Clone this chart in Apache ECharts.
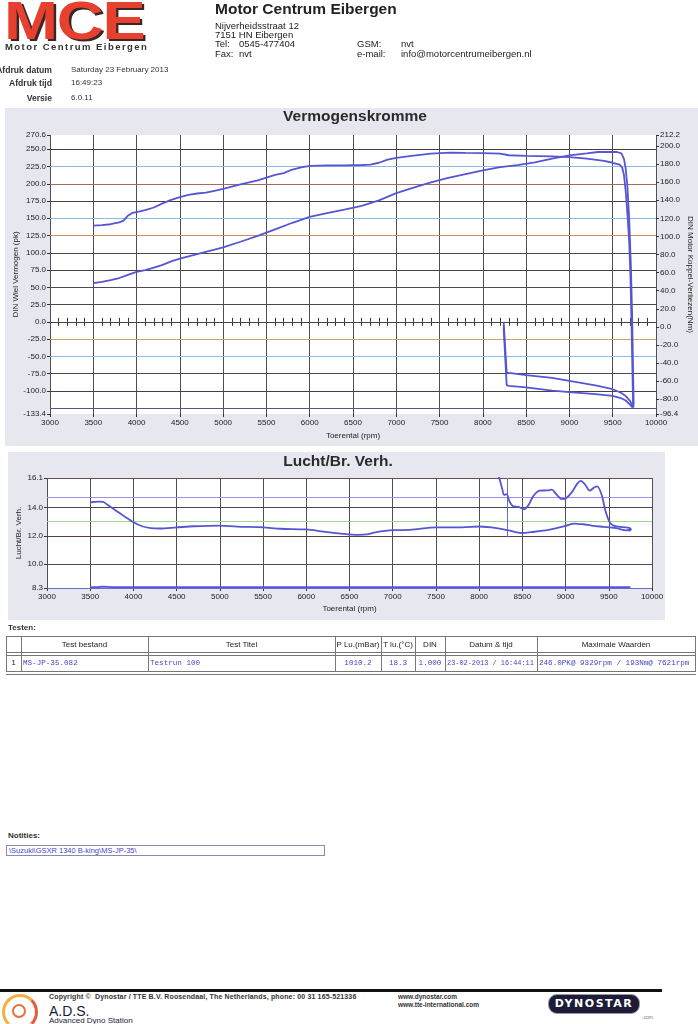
<!DOCTYPE html>
<html><head><meta charset="utf-8">
<script src="https://cdn.jsdelivr.net/npm/echarts@6.0.0/dist/echarts.min.js"></script>
<style>
html,body{margin:0;padding:0;background:#fff}
body{position:relative;width:698px;height:1024px;overflow:hidden;font-family:"Liberation Sans",Arial,sans-serif;color:#222}
.a{position:absolute;white-space:nowrap}
.b{font-weight:bold}
#chart{position:absolute;left:0;top:0;width:698px;height:630px}
.m{font-family:"Liberation Mono","DejaVu Sans Mono",monospace;color:#4646c8}
</style></head><body>
<div id="chart"></div>

<!-- header -->
<div class="a b" style="left:4px;top:-7px;font-size:54px;line-height:54px;color:#e8402e;text-shadow:2px 2px 0 #3a2626;transform:scaleX(1.2);transform-origin:left top;letter-spacing:-1px">MCE</div>
<div class="a b" style="left:5px;top:42px;font-size:9.5px;line-height:10px;color:#333;letter-spacing:1.45px">Motor Centrum Eibergen</div>
<div class="a b" style="left:215px;top:1px;font-size:15.5px;line-height:16px;color:#222">Motor Centrum Eibergen</div>
<div class="a" style="left:215px;top:21px;font-size:9.5px;line-height:10px">Nijverheidsstraat 12</div>
<div class="a" style="left:215px;top:30px;font-size:9.5px;line-height:10px">7151 HN Eibergen</div>
<div class="a" style="left:215px;top:39px;font-size:9.5px;line-height:10px">Tel:</div>
<div class="a" style="left:239px;top:39px;font-size:9.5px;line-height:10px">0545-477404</div>
<div class="a" style="left:215px;top:49px;font-size:9.5px;line-height:10px">Fax:</div>
<div class="a" style="left:239px;top:49px;font-size:9.5px;line-height:10px">nvt</div>
<div class="a" style="left:357px;top:39px;font-size:9.5px;line-height:10px">GSM:</div>
<div class="a" style="left:401px;top:39px;font-size:9.5px;line-height:10px">nvt</div>
<div class="a" style="left:357px;top:49px;font-size:9.5px;line-height:10px">e-mail:</div>
<div class="a" style="left:401px;top:49px;font-size:9.5px;line-height:10px">info@motorcentrumeibergen.nl</div>

<div class="a b" style="right:646px;top:66px;font-size:8.6px;line-height:8px;color:#333">Afdruk datum</div>
<div class="a b" style="right:646px;top:79px;font-size:8.6px;line-height:8px;color:#333">Afdruk tijd</div>
<div class="a b" style="right:646px;top:94px;font-size:8.6px;line-height:8px;color:#333">Versie</div>
<div class="a" style="left:71px;top:66px;font-size:8px;line-height:8px;color:#333">Saturday 23 February 2013</div>
<div class="a" style="left:71px;top:79px;font-size:8px;line-height:8px;color:#333">16:49:23</div>
<div class="a" style="left:71px;top:94px;font-size:8px;line-height:8px;color:#333">6.0.11</div>

<!-- tests table -->
<div class="a b" style="left:8px;top:624px;font-size:8px;line-height:8px;color:#333">Testen:</div>
<div id="tbl"></div>

<!-- notes -->
<div class="a b" style="left:8px;top:832px;font-size:8px;line-height:8px;color:#333">Notities:</div>
<div class="a" style="left:6px;top:845px;width:317px;height:9px;border:1px solid #8a8ab0"></div>
<div class="a" style="left:9px;top:846px;font-size:7.5px;line-height:9px;color:#4646c8">\Suzuki\GSXR 1340 B-king\MS-JP-35\</div>

<!-- footer -->
<div class="a" style="left:0;top:989px;width:662px;height:3px;background:#111"></div>
<div class="a" style="left:2px;top:994px;width:30px;height:30px;border-radius:50%;border:3px solid #f2b040;border-right-color:#e85a3a;border-bottom-color:#f6d060"></div>
<div class="a" style="left:12px;top:1004px;width:10px;height:10px;border-radius:50%;border:2px solid #e87040"></div>
<div class="a b" style="left:49px;top:993px;font-size:7px;line-height:8px;color:#333;letter-spacing:0.15px">Copyright ©&nbsp; Dynostar / TTE B.V. Roosendaal, The Netherlands, phone: 00 31 165-521336</div>
<div class="a b" style="left:398px;top:993px;font-size:6.5px;line-height:8px;color:#333">www.dynostar.com</div>
<div class="a b" style="left:398px;top:1001px;font-size:6.5px;line-height:8px;color:#333">www.tte-international.com</div>
<div class="a" style="left:49px;top:1004px;font-size:14px;line-height:14px;color:#1a1a40">A.D.S.</div>
<div class="a" style="left:49px;top:1017px;font-size:8px;line-height:8px;color:#1a1a40">Advanced Dyno Station</div>
<div class="a b" style="left:548px;top:994px;width:90px;height:18px;border-radius:9px;background:#1c1c38;border:1px solid #999;color:#fff;font-family:'DejaVu Sans',sans-serif;font-size:11px;line-height:18px;text-align:center;letter-spacing:1.5px">DYNOSTAR</div>
<div class="a" style="left:642px;top:1014px;font-size:5px;line-height:6px;color:#777">.com</div>

<script>
// ---------- data ----------
const powerRpm = [3500,3600,3700,3800,3900,4000,4100,4200,4300,4400,4500,4600,4700,4800,4900,5000,5200,5400,5600,5800,6000,6200,6400,6600,6800,7000,7200,7400,7600,7800,8000,8200,8400,8600,8800,9000,9200,9329,9450,9550,9600,9630,9650,9670,9690,9710,9725,9735,9742,9738,9725,9700,9650,9600,9500,9300,9000,8800,8500,8300,8275,8240];
const powerPk = [56,58,60.5,63.5,68,72.5,75,78.5,82.5,87.5,91.5,95,98,101.5,104.5,108,116,124.5,134,143.5,152,157.5,162.5,168,176,186.5,194.5,202,208.5,214,219.5,224,227,231,236.5,241,244,246,246,246,244,236,222,195,150,80,5,-70,-118,-124,-121,-114.5,-107.5,-103,-97.5,-92,-85.5,-81,-77,-74,-73.5,0];

const torqueRpm = [3500,3600,3700,3800,3850,3900,3950,4000,4100,4200,4300,4400,4500,4600,4700,4800,4900,5000,5200,5400,5600,5700,5800,5900,6000,6200,6400,6600,6700,6800,6900,7000,7200,7400,7621,7800,8000,8200,8300,8500,8800,9000,9200,9400,9500,9580,9610,9630,9650,9670,9690,9705,9718,9728,9735,9725,9700,9650,9600,9500,9300,9000,8800,8500,8300,8275,8240];
const torqueNm = [112,112.5,113.5,115.5,117.5,123,126,127,129,132,136.5,140.5,143.5,146,147.5,148.5,150.5,152.5,157.5,162,168,170,174,176.5,178,178.5,178.5,179,179.5,181.5,185,187,189.5,191.5,192.8,192.5,192.2,191.5,189.8,189,188.5,187.8,186,183.5,181.5,179.5,176,168,150,125,95,55,0,-50,-85,-89,-86,-81.5,-79,-76.3,-74.5,-72.2,-70.5,-67,-65.2,-64.4,0];

const afrRpm = [3500,3600,3650,3700,3800,3900,4000,4100,4200,4300,4500,4700,5000,5200,5500,5700,6000,6200,6400,6600,6700,6800,7000,7200,7500,7800,8000,8200,8400,8500,8600,8800,9000,9100,9200,9300,9400,9500,9600,9700,9750];
const afr = [14.38,14.42,14.4,14.2,13.78,13.36,12.96,12.68,12.55,12.52,12.6,12.68,12.73,12.65,12.6,12.5,12.45,12.3,12.16,12.07,12.1,12.25,12.4,12.42,12.6,12.6,12.66,12.55,12.3,12.2,12.26,12.42,12.7,12.87,12.82,12.73,12.66,12.6,12.52,12.38,12.45];

const afr2Rpm = [8225,8265,8290,8317,8352,8388,8455,8522,8573,8625,8697,8790,8841,8893,8955,9006,9073,9140,9176,9228,9279,9331,9366,9418,9459,9511,9562,9665,9743,9755,9740,9715];
const afr2 = [16.3,15.38,14.9,14.95,14.43,14.12,14.05,13.88,14.2,14.8,15.2,15.22,15.27,14.95,14.62,14.67,15.1,15.74,15.9,15.62,15.2,15.43,15.5,14.9,13.83,12.95,12.71,12.62,12.55,12.45,12.37,12.4];

const afrBaseRpm = [3500,3600,3650,3700,3750,9750];
const afrBase = [8.36,8.37,8.4,8.38,8.36,8.36];
const afrMarkerRpm = 8330;

// ---------- ticks / labels ----------
const rpmMin = 3000, rpmMax = 10000, rpmStep = 500;
const pkTicks = [-133.4,-100,-75,-50,-25,0,25,50,75,100,125,150,175,200,225,250,270.6];
const pkGridLines = [-125,-100,-75,-50,-25,0,25,50,75,100,125,150,175,200,225,250];
const pkGridColors = ['#55558a','#4a4040','#4a4a4a','#8cb8e6','#d0a060','#444','#4a4a4a','#4a4a5a','#444','#4a4a4a','#c8905a','#8cb8e6','#444','#a86a5a','#8cb8e6','#4a3a3a'];
const nmTicks = [-96.4,-80,-60,-40,-20,0,20,40,60,80,100,120,140,160,180,200,212.2];
const afrTicks = [8.3,10,12,14,16.1];
const afrGridLines = [8.3,10,12,14,16.1];
const afrGridColors = ['#6b6bc8','#5a4a6a','#5a4040','#4a4a4a','#6a5050'];
const afrRefLines = [14.7,13.0];
const afrRefColors = ['#a090ea','#98d890'];
const zeroTicks = [];
for (let r = rpmMin + 100; r < rpmMax; r += 100) if (r % rpmStep !== 0) zeroTicks.push(r);

// ---------- table ----------
const colX = [6,21,148,335,381,415,445,537,695];
const headers = ['', 'Test bestand','Test Titel','P Lu.(mBar)','T lu.(°C)','DIN','Datum & tijd','Maximale Waarden'];
const row = ['1','MS-JP-35.082','Testrun 100','1010.2','18.3','1.000','23-02-2013 / 16:44:11','246.0PK@ 9329rpm / 193Nm@ 7621rpm'];
const rowAlign = ['center','left','left','center','center','center','left','left'];
(function(){
  const t = document.getElementById('tbl');
  let h = '';
  const L = colX[0], R = colX[colX.length-1];
  [636,652,655,671,674].forEach(y=>{ h += `<div class="a" style="left:${L}px;top:${y}px;width:${R-L+1}px;height:1px;background:#777"></div>`; });
  colX.forEach(x=>{ h += `<div class="a" style="left:${x}px;top:636px;width:1px;height:36px;background:#777"></div>`; });
  for (let i=0;i<headers.length;i++){
    const x0 = colX[i], w = colX[i+1]-colX[i];
    h += `<div class="a" style="left:${x0}px;top:640px;width:${w}px;text-align:center;font-size:8px;line-height:9px;color:#222">${headers[i]}</div>`;
    const cls = i===0 ? '' : 'm';
    const fs = i===6 ? 6.9 : 7.6;
    const pad = rowAlign[i]==='left' ? 2 : 0;
    h += `<div class="a ${cls}" style="left:${x0+pad}px;top:658px;width:${w-pad}px;text-align:${rowAlign[i]};font-size:${fs}px;line-height:10px;${i===0?'color:#222;font-family:Liberation Sans':''}">${row[i]}</div>`;
  }
  t.innerHTML = h;
})();

// ---------- chart ----------
const FONT = "'Liberation Sans', Arial, sans-serif";
const lineColor = '#5656d2';
const zip = (a,b)=>a.map((x,i)=>[x,b[i]]);
const lbl = {fontSize:8, color:'#222', fontFamily:FONT};
const nameStyle = {fontSize:8, color:'#222', fontFamily:FONT};
const tickStyle = {color:'#333', width:1};
function gridMarks(vals, colors){
  return {symbol:['none','none'], silent:true, animation:false, z:1, label:{show:false},
    lineStyle:{type:'solid', width:1}, emphasis:{disabled:true},
    data: vals.map((v,i)=>({yAxis:v, lineStyle:{color:colors[i], width:1, type:'solid'}}))};
}

const chart = echarts.init(document.getElementById('chart'), null, {renderer:'canvas'});
chart.setOption({
  animation:false,
  textStyle:{fontFamily:FONT},
  graphic:[
    {type:'rect', z:-100, shape:{x:5,y:108,width:693,height:338}, style:{fill:'#e7e7ef'}},
    {type:'rect', z:-100, shape:{x:8,y:452,width:657,height:168}, style:{fill:'#e7e7ef'}},
    {type:'text', z:10, x:355, y:117, style:{text:'Vermogenskromme', font:"bold 15.5px 'Liberation Sans', Arial", fill:'#2a2a2a', align:'center', verticalAlign:'middle'}},
    {type:'text', z:10, x:338, y:462, style:{text:'Lucht/Br. Verh.', font:"bold 15.5px 'Liberation Sans', Arial", fill:'#2a2a2a', align:'center', verticalAlign:'middle'}}
  ],
  grid:[
    {left:50, top:135, width:606, height:279, show:true, backgroundColor:'#fff', borderWidth:0, outerBoundsMode:'none', containLabel:false},
    {left:47, top:478, width:605, height:110, show:true, backgroundColor:'#fff', borderWidth:0, outerBoundsMode:'none', containLabel:false}
  ],
  xAxis:[
    {gridIndex:0, type:'value', position:'bottom', min:rpmMin, max:rpmMax, interval:rpmStep,
     axisLine:{show:false, onZero:false}, axisTick:{show:true, length:3, lineStyle:tickStyle},
     axisLabel:{...lbl, margin:5, formatter:v=>String(v)},
     splitLine:{show:true, lineStyle:{color:'#505050', width:1}},
     name:'Toerental (rpm)', nameLocation:'middle', nameGap:18, nameTextStyle:nameStyle, nameMoveOverlap:false},
    {gridIndex:0, type:'value', position:'bottom', min:rpmMin, max:rpmMax, interval:rpmStep,
     axisLine:{show:true, onZero:true, onZeroAxisIndex:0, lineStyle:{color:'#444', width:1}},
     axisTick:{show:true, customValues:zeroTicks, length:4, inside:false, lineStyle:tickStyle},
     axisLabel:{show:false}, splitLine:{show:false}},
    {gridIndex:0, type:'value', position:'bottom', min:rpmMin, max:rpmMax, interval:rpmStep,
     axisLine:{show:false, onZero:true, onZeroAxisIndex:0},
     axisTick:{show:true, customValues:zeroTicks, length:4, inside:true, lineStyle:tickStyle},
     axisLabel:{show:false}, splitLine:{show:false}},
    {gridIndex:1, type:'value', position:'bottom', min:rpmMin, max:rpmMax, interval:rpmStep,
     axisLine:{show:false, onZero:false}, axisTick:{show:true, length:3, lineStyle:tickStyle},
     axisLabel:{...lbl, margin:5, formatter:v=>String(v)},
     splitLine:{show:true, lineStyle:{color:'#505050', width:1}},
     name:'Toerental (rpm)', nameLocation:'middle', nameGap:17, nameTextStyle:nameStyle, nameMoveOverlap:false}
  ],
  yAxis:[
    {gridIndex:0, type:'value', position:'left', min:-133.4, max:270.6,
     axisLine:{show:false, onZero:false}, splitLine:{show:false},
     axisTick:{show:true, customValues:pkTicks, length:3, lineStyle:tickStyle},
     axisLabel:{...lbl, customValues:pkTicks, margin:4, formatter:v=>Number(v).toFixed(1)},
     name:'DIN Wiel Vermogen (pk)', nameLocation:'middle', nameGap:30, nameTextStyle:nameStyle, nameMoveOverlap:false},
    {gridIndex:0, type:'value', position:'right', min:-96.4, max:212.2,
     axisLine:{show:false, onZero:false}, splitLine:{show:false},
     axisTick:{show:true, customValues:nmTicks, length:3, lineStyle:tickStyle},
     axisLabel:{...lbl, customValues:nmTicks, margin:4, formatter:v=>Number(v).toFixed(1)},
     name:'DIN Motor Koppel-Verliezen(Nm)', nameLocation:'middle', nameRotate:-90, nameGap:30, nameTextStyle:nameStyle, nameMoveOverlap:false},
    {gridIndex:1, type:'value', position:'left', min:8.3, max:16.1,
     axisLine:{show:false, onZero:false}, splitLine:{show:false},
     axisTick:{show:true, customValues:afrTicks, length:3, lineStyle:tickStyle},
     axisLabel:{...lbl, customValues:afrTicks, margin:4, formatter:v=>Number(v).toFixed(1)},
     name:'Lucht/Br. Verh.', nameLocation:'middle', nameGap:24, nameTextStyle:nameStyle, nameMoveOverlap:false}
  ],
  series:[
    {type:'line', xAxisIndex:0, yAxisIndex:0, data:[], silent:true, markLine:gridMarks(pkGridLines, pkGridColors)},
    {type:'line', name:'Vermogen', xAxisIndex:0, yAxisIndex:0, data:zip(powerRpm,powerPk), showSymbol:false, z:5, lineStyle:{color:lineColor, width:1.8}},
    {type:'line', name:'Koppel', xAxisIndex:0, yAxisIndex:1, data:zip(torqueRpm,torqueNm), showSymbol:false, z:5, lineStyle:{color:lineColor, width:1.8}},
    {type:'line', xAxisIndex:3, yAxisIndex:2, data:[], silent:true,
     markLine:(function(){
       const m = gridMarks(afrGridLines.concat(afrRefLines), afrGridColors.concat(afrRefColors));
       m.data.push([{coord:[afrMarkerRpm,16.1], lineStyle:{color:'#6a6ad8', width:1, type:'solid'}},{coord:[afrMarkerRpm,11.9]}]);
       return m;
     })()},
    {type:'line', name:'AFR', xAxisIndex:3, yAxisIndex:2, data:zip(afrRpm,afr), showSymbol:false, smooth:0.3, z:5, lineStyle:{color:lineColor, width:1.8}},
    {type:'line', name:'AFR2', xAxisIndex:3, yAxisIndex:2, data:zip(afr2Rpm,afr2), showSymbol:false, smooth:0.3, z:5, lineStyle:{color:lineColor, width:1.8}},
    {type:'line', name:'AFR base', xAxisIndex:3, yAxisIndex:2, data:zip(afrBaseRpm,afrBase), showSymbol:false, z:5, lineStyle:{color:lineColor, width:1.8}}
  ]
});
</script>
</body></html>
